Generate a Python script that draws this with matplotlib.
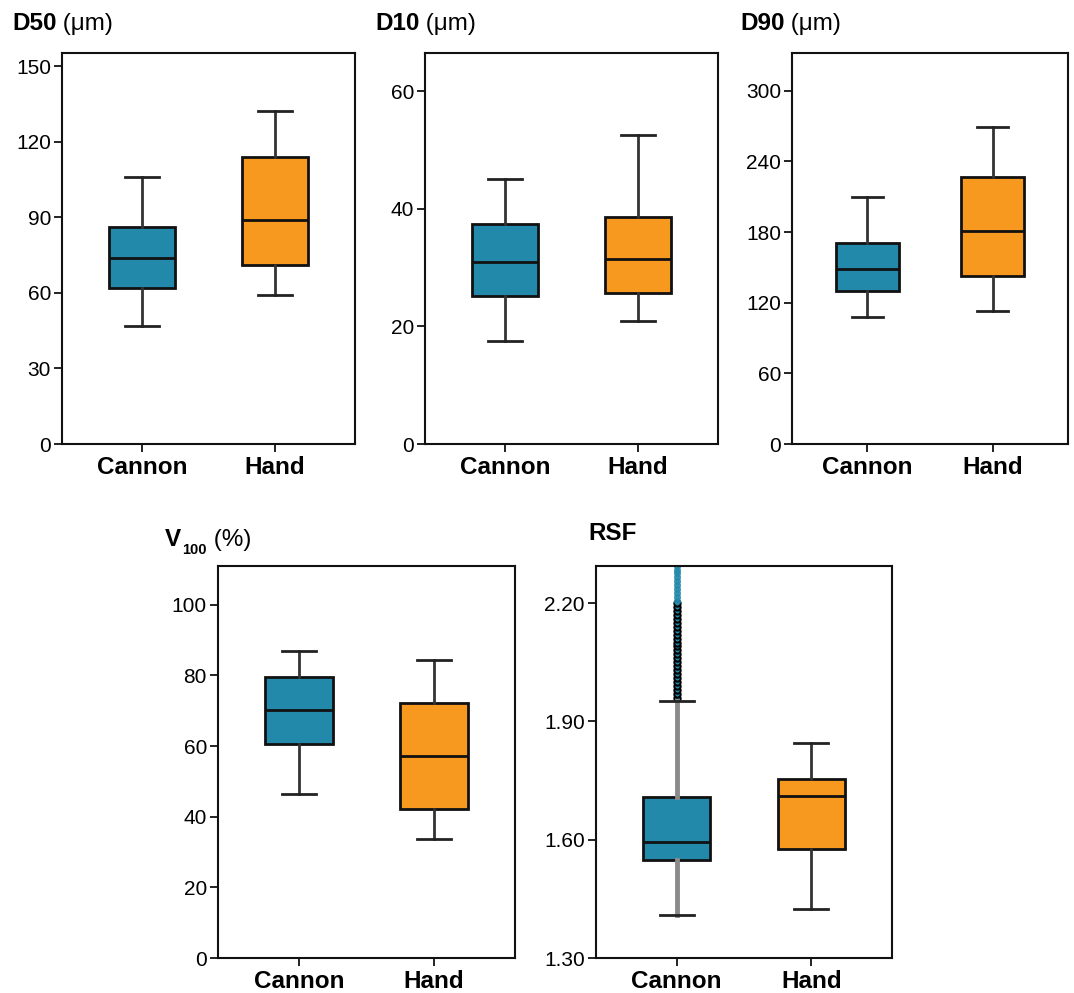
import numpy as np
import matplotlib
matplotlib.use("Agg")
import matplotlib.pyplot as plt

plt.rcParams['font.family'] = ['Liberation Sans', 'DejaVu Sans']

groups = ['Cannon', 'Hand']
teal = '#2389AB'
orange = '#F7991F'

# five-number summaries per group: low whisker, q1, median, q3, high whisker
d50_cannon = [47, 62, 74, 86, 106]
d50_hand = [59, 71, 89, 114, 132]
d10_cannon = [17.5, 25.2, 31, 37.5, 45]
d10_hand = [21, 25.6, 31.5, 38.6, 52.5]
d90_cannon = [108, 130, 149, 171, 210]
d90_hand = [113, 143, 181, 227, 269]
v100_cannon = [46.3, 60.5, 70.3, 79.5, 86.8]
v100_hand = [33.6, 42.2, 57.2, 72.2, 84.5]
rsf_cannon = [1.409, 1.549, 1.594, 1.709, 1.951]
rsf_hand = [1.425, 1.577, 1.712, 1.753, 1.844]

# RSF cannon outliers (edged ones and the faint ones above)
rsf_out_dark = [1.96, 1.97, 1.98, 1.99, 2.00, 2.01, 2.02, 2.03, 2.04, 2.05,
                2.06, 2.07, 2.08, 2.09, 2.10, 2.11, 2.12, 2.13, 2.14, 2.15,
                2.16, 2.17, 2.18, 2.19, 2.20]
rsf_out_light = [2.205, 2.215, 2.225, 2.235, 2.245, 2.255, 2.265, 2.275,
                 2.285, 2.295]

W, H = 1074, 993
fig = plt.figure(figsize=(W / 100, H / 100), dpi=100)


def px_axes(left, top, right, bottom):
    return fig.add_axes([left / W, 1 - bottom / H, (right - left) / W, (bottom - top) / H])


def stats(v, label):
    return dict(whislo=v[0], q1=v[1], med=v[2], q3=v[3], whishi=v[4], fliers=[], label=label)


def panel(ax, cannon, hand, ylim, yticks, fmt, whis_c='#333333', whis_lw_c=2.0):
    for i, (vals, col) in enumerate([(cannon, teal), (hand, orange)]):
        wc = whis_c if i == 0 else '#333333'
        wl = whis_lw_c if i == 0 else 2.0
        ax.bxp([stats(vals, groups[i])], positions=[i], widths=0.5,
               patch_artist=True, showfliers=False,
               boxprops=dict(facecolor=col, edgecolor='#111111', linewidth=2),
               medianprops=dict(color='#111111', linewidth=2),
               whiskerprops=dict(color=wc, linewidth=wl),
               capprops=dict(color='#222222', linewidth=2), capwidths=0.25)
    ax.set_xlim(-0.6, 1.6)
    ax.set_ylim(*ylim)
    ax.set_yticks(yticks)
    ax.set_yticklabels([fmt.format(t) for t in yticks], fontsize=15)
    ax.set_xticks([0, 1])
    ax.set_xticklabels(groups, fontsize=17.5, fontweight='bold')
    ax.tick_params(axis='both', length=6, width=1.3, color='#111111', pad=2)
    ax.tick_params(axis='x', pad=3)
    for s in ax.spines.values():
        s.set_linewidth(1.5)
        s.set_color('#111111')


def title_parts(x, y, bold, rest, sub=None):
    # bold name, optional bold subscript, then the unit in regular weight
    t = fig.text(x / W, 1 - y / H, bold, fontsize=17.5, fontweight='bold', va='center', ha='left')
    prev = t
    if sub is not None:
        prev = fig.text(0, 0, sub, fontsize=10.5, fontweight='bold', va='center', ha='left')
        fig.canvas.draw()
        bb = t.get_window_extent()
        prev.set_position(((bb.x1 + 1) / W, (bb.y0 + 1) / H))
    if rest:
        fig.canvas.draw()
        bb = prev.get_window_extent()
        fig.text(bb.x1 / W, 1 - y / H, rest, fontsize=17.5, va='center', ha='left')


ax1 = px_axes(62, 53, 355, 444)
panel(ax1, d50_cannon, d50_hand, (0, 155.2), [0, 30, 60, 90, 120, 150], '{:d}')
ax2 = px_axes(425, 53, 718, 444)
panel(ax2, d10_cannon, d10_hand, (0, 66.5), [0, 20, 40, 60], '{:d}')
ax3 = px_axes(792, 53, 1068, 444)
panel(ax3, d90_cannon, d90_hand, (0, 332), [0, 60, 120, 180, 240, 300], '{:d}')
ax4 = px_axes(218, 566, 515, 958)
panel(ax4, v100_cannon, v100_hand, (0, 111), [0, 20, 40, 60, 80, 100], '{:d}')
ax5 = px_axes(596, 566, 892, 958)
panel(ax5, rsf_cannon, rsf_hand, (1.3, 2.294), [1.30, 1.60, 1.90, 2.20], '{:.2f}',
      whis_c='#8a8a8a', whis_lw_c=3.5)
ax5.plot([0] * len(rsf_out_dark), rsf_out_dark, 'o', ms=4.5, mfc=teal, mec='#000000',
         mew=1.5, clip_on=False, zorder=1)
ax5.plot([0] * len(rsf_out_light), rsf_out_light, 'o', ms=4.5, mfc=teal, mec=teal,
         mew=0.5, alpha=0.9, clip_on=True, zorder=1)

title_parts(12, 24, 'D50', ' (\u03bcm)')
title_parts(375, 24, 'D10', ' (\u03bcm)')
title_parts(740, 24, 'D90', ' (\u03bcm)')
title_parts(165, 540, 'V', ' (%)', sub='100')
title_parts(588, 534, 'RSF', '')

fig.savefig('out.png', dpi=100)
